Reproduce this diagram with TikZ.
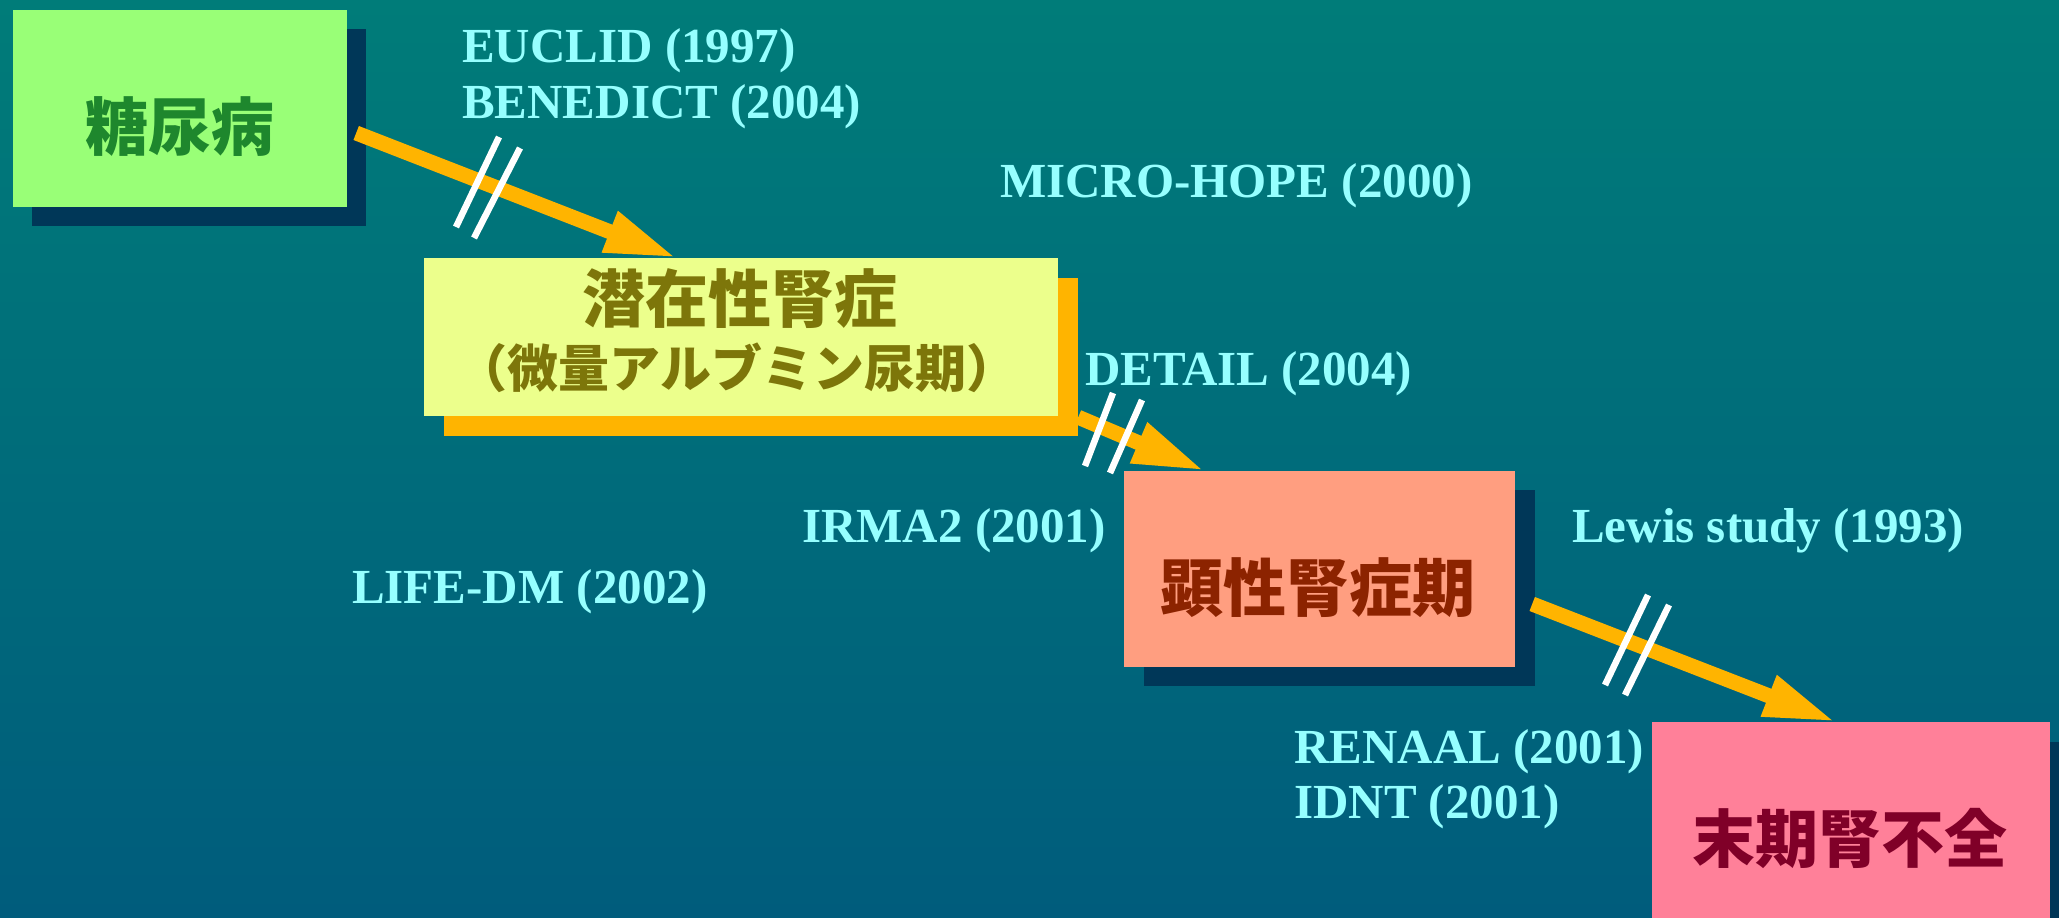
\documentclass[tikz,border=0pt]{standalone}
\usepackage{fontspec}
\setmainfont{Liberation Serif}
\newfontfamily\cjk{Noto Sans CJK JP}
\usetikzlibrary{arrows.meta}
\definecolor{bgtop}{RGB}{0,124,121}
\definecolor{bgbot}{RGB}{0,92,124}
\definecolor{shadownavy}{RGB}{0,55,88}
\definecolor{arroworange}{RGB}{255,180,0}
\definecolor{studycyan}{RGB}{150,255,255}
\definecolor{boxgreen}{RGB}{153,255,119}
\definecolor{txtgreen}{RGB}{30,135,45}
\definecolor{boxyellow}{RGB}{236,255,140}
\definecolor{txtolive}{RGB}{125,118,10}
\definecolor{boxsalmon}{RGB}{255,158,128}
\definecolor{txtbrown}{RGB}{140,35,0}
\definecolor{boxpink}{RGB}{255,128,153}
\definecolor{txtmaroon}{RGB}{128,0,40}
\tikzset{
  stagebox/.style={rectangle, inner sep=0pt, draw=none},
  stagetxt/.style={inner sep=0pt, font=\cjk\bfseries\fontsize{63}{63}\selectfont},
  study/.style={inner sep=0pt, anchor=base west, text=studycyan, font=\bfseries\fontsize{49}{49}\selectfont},
  flow/.style={draw=arroworange, line width=15pt, -{Triangle[length=72pt,width=40pt]}},
  breakmark/.style={draw=white, line width=6.5pt}
}
\begin{document}
\begin{tikzpicture}[x=1pt,y=-1pt]
\clip (0,0) rectangle (2059,918);
\shade[top color=bgtop, bottom color=bgbot] (0,0) rectangle (2059,918);
% shadows
\fill[shadownavy] (32,29) rectangle (366,226);
\fill[arroworange] (444,278) rectangle (1078,436);
\fill[shadownavy] (1144,490) rectangle (1535,686);
\fill[shadownavy] (1672,742) rectangle (2070,970);
% boxes
\node[stagebox, fill=boxgreen, minimum width=334pt, minimum height=197pt] (b1) at (180,108.5) {};
\node[stagebox, fill=boxyellow, minimum width=634pt, minimum height=158pt] (b2) at (741,337) {};
\node[stagebox, fill=boxsalmon, minimum width=391pt, minimum height=196pt] (b3) at (1319.5,569) {};
\node[stagebox, fill=boxpink, minimum width=398pt, minimum height=228pt] (b4) at (1851,836) {};
% box texts
\node[stagetxt, text=txtgreen] (t1) at (180,127) {糖尿病};
\node[stagetxt, text=txtolive] (t2a) at (740,299) {潜在性腎症};
\node[stagetxt, text=txtolive, font=\cjk\bfseries\fontsize{51}{51}\selectfont] (t2b) at (737,368) {（微量アルブミン尿期）};
\node[stagetxt, text=txtbrown] (t3) at (1318,588) {顕性腎症期};
\node[stagetxt, text=txtmaroon] (t4) at (1850,838) {末期腎不全};
% arrows
\draw[flow] ([xshift=9pt,yshift=-24.5pt]b1.east) -- ([xshift=253pt]b2.north west);
\draw[flow] ([xshift=20pt,yshift=-1pt]b2.south east) -- ([xshift=81pt]b3.north west);
\draw[flow] ([xshift=17pt,yshift=-35pt]b3.east) -- ([xshift=184pt]b4.north west);
% break marks
\coordinate (m1a) at (499,137); \coordinate (m1b) at (456,227);
\coordinate (m1c) at (520,148); \coordinate (m1d) at (474,238);
\draw[breakmark] (m1a) -- (m1b); \draw[breakmark] (m1c) -- (m1d);
\coordinate (m2a) at (1113,393); \coordinate (m2b) at (1085,466);
\coordinate (m2c) at (1142,400); \coordinate (m2d) at (1110,473);
\draw[breakmark] (m2a) -- (m2b); \draw[breakmark] (m2c) -- (m2d);
\coordinate (m3a) at (1648,595); \coordinate (m3b) at (1605,685);
\coordinate (m3c) at (1669,605); \coordinate (m3d) at (1625,695);
\draw[breakmark] (m3a) -- (m3b); \draw[breakmark] (m3c) -- (m3d);
% study labels
\node[study] (euclid) at (462,62) {EUCLID (1997)};
\node[study] (benedict) at (462,118) {BENEDICT (2004)};
\node[study] (microhope) at (1000,197) {MICRO-HOPE (2000)};
\node[study] (detail) at (1085,385) {DETAIL (2004)};
\node[study] (irma) at (802,542) {IRMA2 (2001)};
\node[study] (lewis) at (1572,542) {Lewis study (1993)};
\node[study] (lifedm) at (352,603) {LIFE-DM (2002)};
\node[study] (renaal) at (1294,763) {RENAAL (2001)};
\node[study] (idnt) at (1294,818) {IDNT (2001)};
\end{tikzpicture}
\end{document}
